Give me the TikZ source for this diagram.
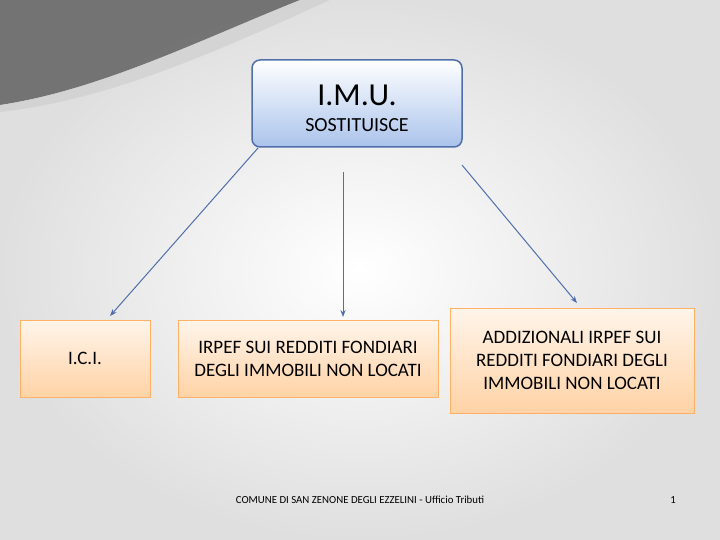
\documentclass[tikz,border=0pt]{standalone}
\usepackage{fontspec}
\setmainfont{Carlito}
\usetikzlibrary{arrows.meta}
\definecolor{steel}{RGB}{80,110,170}
\definecolor{lblue}{RGB}{170,195,235}
\begin{document}
\begin{tikzpicture}[x=1pt,y=-1pt,
  obox/.style={draw=orange!60!white,line width=1pt,top color=orange!8!white,bottom color=orange!35!white,align=center,inner sep=0pt,font=\fontsize{19}{23}\selectfont},
  arr/.style={draw=steel,line width=1pt,-{Stealth[length=7pt]}}]
\useasboundingbox (0,0) rectangle (720,540);
\shade[inner color=white,outer color=gray!25] (0,0) rectangle (720,540);
\fill[gray!70!black,opacity=0.8] (0,0) -- (300,0) .. controls (200,40) and (100,90) .. (0,105) -- cycle;
\fill[gray!40,opacity=0.6] (0,105) .. controls (100,90) and (200,40) .. (300,0) -- (330,0) .. controls (220,50) and (110,100) .. (0,112) -- cycle;
\node[draw=steel,line width=1.5pt,rounded corners=8pt,top color=white,bottom color=lblue,minimum width=210pt,minimum height=87pt] (imu) at (357,103.5) {};
\node[font=\fontsize{32}{36}\selectfont] (t1) at (357,95) {I.M.U.};
\node[font=\fontsize{20}{24}\selectfont] (t2) at (357,125) {SOSTITUISCE};
\node[obox,minimum width=130pt,minimum height=77pt] (ici) at (85,358.5) {I.C.I.};
\node[obox,minimum width=260pt,minimum height=77pt] (irpef) at (308,358.5) {IRPEF SUI REDDITI FONDIARI\\DEGLI IMMOBILI NON LOCATI};
\node[obox,minimum width=244pt,minimum height=105pt] (add) at (572,360.5) {ADDIZIONALI IRPEF SUI\\REDDITI FONDIARI DEGLI\\IMMOBILI NON LOCATI};
\coordinate (a1) at (258,148); \coordinate (b1) at (110,316);
\coordinate (a2) at (343,172); \coordinate (b2) at (343,317);
\coordinate (a3) at (462,165); \coordinate (b3) at (577,303);
\draw[arr] (a1) -- (b1);
\draw[arr] (a2) -- (b2);
\draw[arr] (a3) -- (b3);
\node[font=\fontsize{10.8}{13}\selectfont] (foot) at (360,500) {COMUNE DI SAN ZENONE DEGLI EZZELINI - Ufficio Tributi};
\node[font=\fontsize{10.8}{13}\selectfont] (pg) at (673,500) {1};
\end{tikzpicture}
\end{document}
